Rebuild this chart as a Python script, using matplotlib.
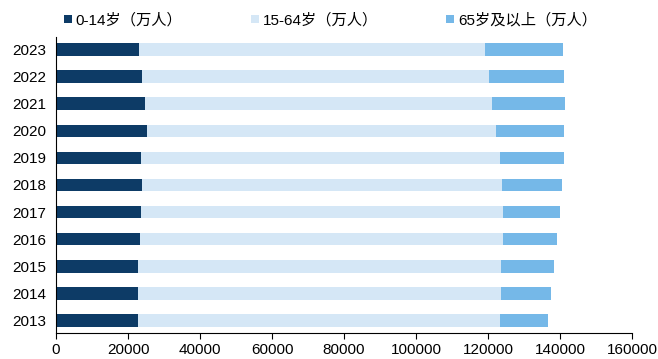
import matplotlib.pyplot as plt
import numpy as np

plt.rcParams['font.family'] = ['Liberation Sans', 'Noto Sans CJK SC', 'DejaVu Sans']

years = ['2013', '2014', '2015', '2016', '2017', '2018', '2019', '2020', '2021', '2022', '2023']
age_0_14 = [22650, 22800, 22850, 23250, 23500, 23750, 23700, 25277, 24678, 23908, 23063]
age_15_64 = [100700, 100800, 100700, 100900, 100600, 100100, 99500, 96871, 96526, 96289, 96228]
age_65_up = [13300, 13950, 14700, 15100, 15900, 16700, 17800, 19064, 20056, 20978, 21676]
series_names = ['0-14岁（万人）', '15-64岁（万人）', '65岁及以上（万人）']
colors = ['#0d3b66', '#d5e7f6', '#75b8e8']

fig = plt.figure(figsize=(6.58, 3.59), dpi=100)
ax = fig.add_axes([56 / 658, 26 / 359, 576 / 658, 296 / 359])

y = np.arange(len(years))
left = np.zeros(len(years))
for vals, name, c in zip([age_0_14, age_15_64, age_65_up], series_names, colors):
    ax.barh(y, vals, left=left, height=0.48, color=c, label=name)
    left += np.array(vals)

ax.set_yticks(y)
ax.set_yticklabels(years)
ax.set_ylim(-0.48, 10.48)
ax.set_xlim(0, 160000)
ax.set_xticks(np.arange(0, 160001, 20000))
ax.tick_params(axis='y', length=0, labelsize=11, pad=7)
ax.tick_params(axis='x', length=4, labelsize=11, direction='out')
for side in ['top', 'right']:
    ax.spines[side].set_visible(False)
ax.spines['left'].set_color('black')
ax.spines['bottom'].set_color('black')

fig.legend(loc='center left', bbox_to_anchor=(64 / 658, 1 - 20 / 359), ncol=3,
           frameon=False, fontsize=11, handlelength=0.5, handleheight=0.5,
           handletextpad=0.25, columnspacing=4.5, borderpad=0, borderaxespad=0)

fig.savefig('out.png', dpi=100)
